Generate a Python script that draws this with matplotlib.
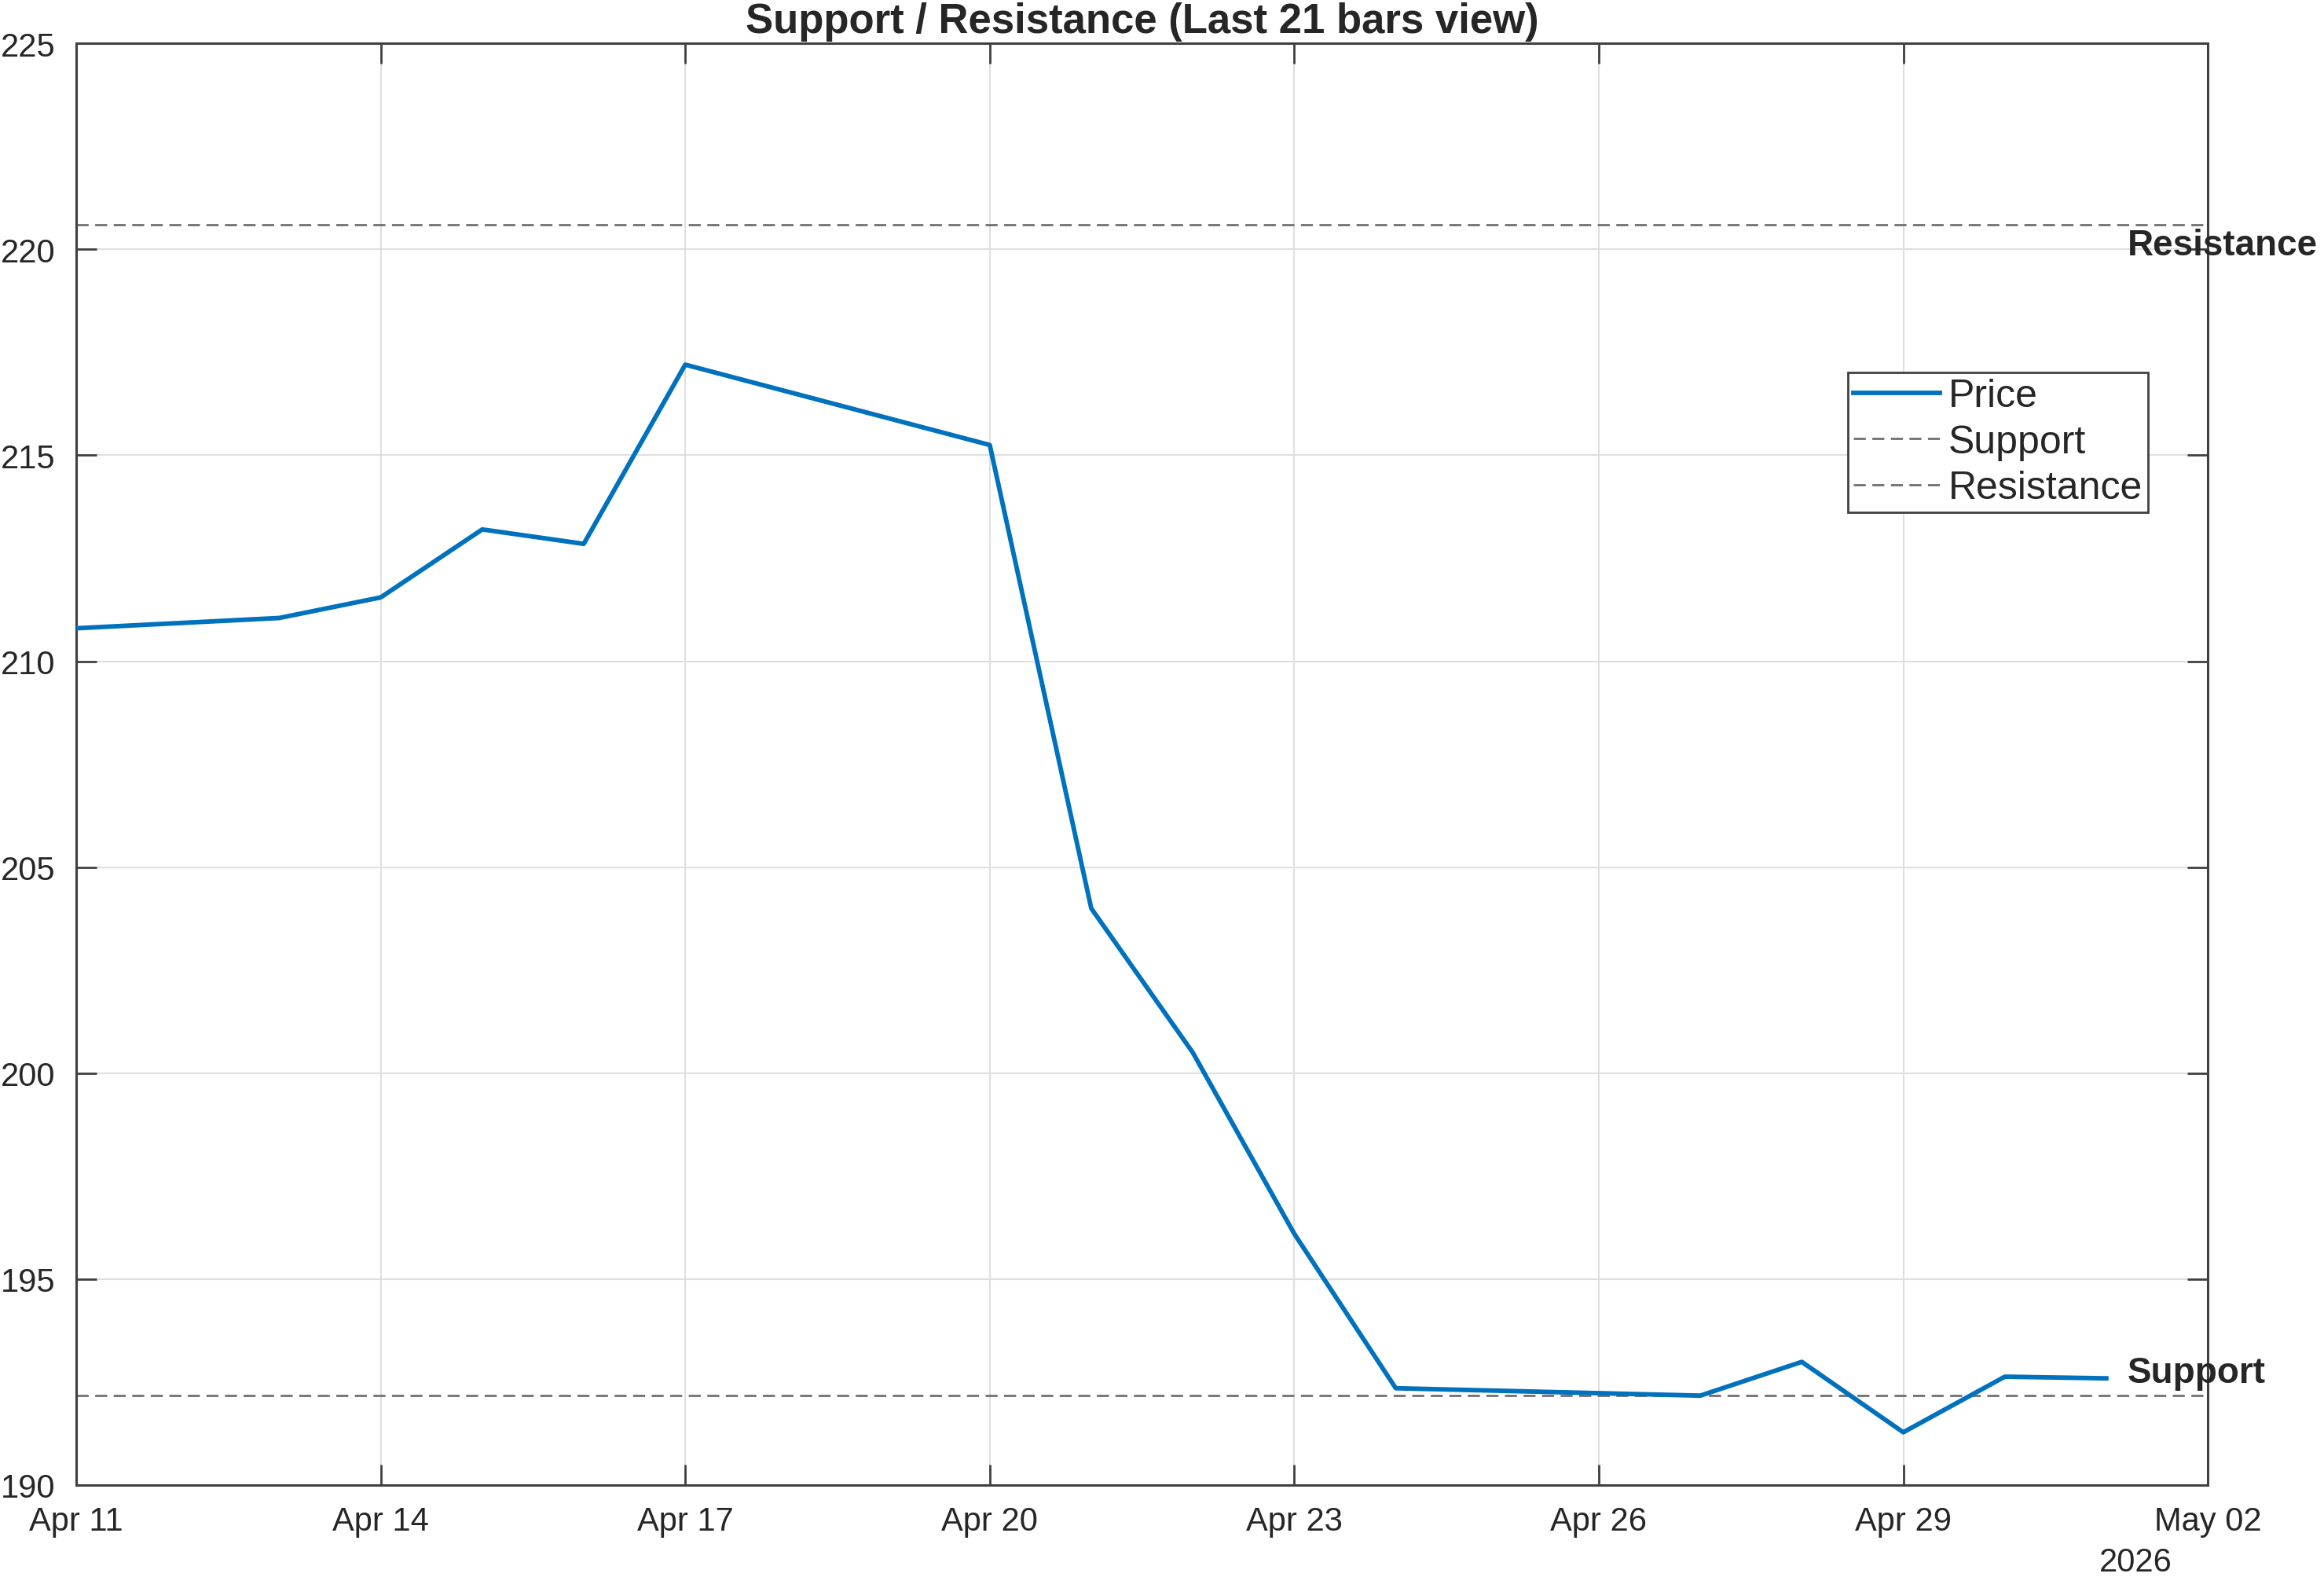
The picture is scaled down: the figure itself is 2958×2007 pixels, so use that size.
import datetime as dt
import matplotlib
matplotlib.use("Agg")
import matplotlib.pyplot as plt
import matplotlib.dates as mdates

dates = ["2026-04-11", "2026-04-13", "2026-04-14", "2026-04-15", "2026-04-16",
         "2026-04-17", "2026-04-20", "2026-04-21", "2026-04-22", "2026-04-23",
         "2026-04-24", "2026-04-27", "2026-04-28", "2026-04-29", "2026-04-30",
         "2026-05-01"]
price = [210.8, 211.05, 211.55, 213.2, 212.85, 217.2, 215.25, 204.0, 200.5,
         196.1, 192.35, 192.17, 192.99, 191.28, 192.63, 192.59]
support = 192.17
resistance = 220.6
tick_dates = ["2026-04-11", "2026-04-14", "2026-04-17", "2026-04-20",
              "2026-04-23", "2026-04-26", "2026-04-29", "2026-05-02"]

x = [dt.datetime.strptime(d, "%Y-%m-%d") for d in dates]
xt = [dt.datetime.strptime(d, "%Y-%m-%d") for d in tick_dates]

plt.rcParams['font.family'] = ['Liberation Sans', 'DejaVu Sans']
txt = '#262626'
fig = plt.figure(figsize=(29.58, 20.08), dpi=100)
ax = fig.add_axes([0.0328, 0.0583, 0.9172, 0.9137])

ax.plot(x, price, color='#0072BD', lw=4.2, label='Price', zorder=3)
ax.axhline(support, color='#707070', lw=2, ls=(0, (5.5, 3)), label='Support', zorder=2)
ax.axhline(resistance, color='#707070', lw=2, ls=(0, (5.5, 3)), label='Resistance', zorder=2)

xtxt = x[-1] + dt.timedelta(hours=5)
ax.text(xtxt, resistance - 0.5, 'Resistance', fontsize=33, fontweight='bold',
        color=txt, va='center', ha='left', clip_on=False)
ax.text(xtxt, support + 0.55, 'Support', fontsize=33, fontweight='bold',
        color=txt, va='center', ha='left', clip_on=False)

ax.set_xlim(xt[0], xt[-1])
ax.set_ylim(190, 225)
ax.set_xticks(xt)
ax.xaxis.set_major_formatter(mdates.DateFormatter('%b %d'))
ax.set_yticks(range(190, 226, 5))
ax.grid(True, color='#dfdfdf', lw=1.5)
ax.set_axisbelow(True)
ax.tick_params(direction='in', length=19, width=2, colors='#404040',
               labelcolor=txt, labelsize=30, top=True, right=True)
ax.tick_params(axis='x', pad=19)
ax.tick_params(axis='y', pad=19)
for s in ax.spines.values():
    s.set_color('#404040')
    s.set_linewidth(2.2)

ax.text(0.966, -0.0595, '2026', transform=ax.transAxes, fontsize=30, color=txt,
        ha='center', va='baseline')
ax.set_title('Support / Resistance (Last 21 bars view)', fontsize=38,
             fontweight='bold', color=txt, pad=10)

leg = ax.legend(loc='upper right', bbox_to_anchor=(0.972, 0.772), fontsize=36,
                frameon=True, fancybox=False, framealpha=1, edgecolor='#404040',
                handlelength=2.2, handletextpad=0.2, labelspacing=0.25,
                borderpad=0.15, borderaxespad=0)
leg.get_frame().set_linewidth(2)
for t in leg.get_texts():
    t.set_color(txt)

fig.savefig('out.png', dpi=100)
